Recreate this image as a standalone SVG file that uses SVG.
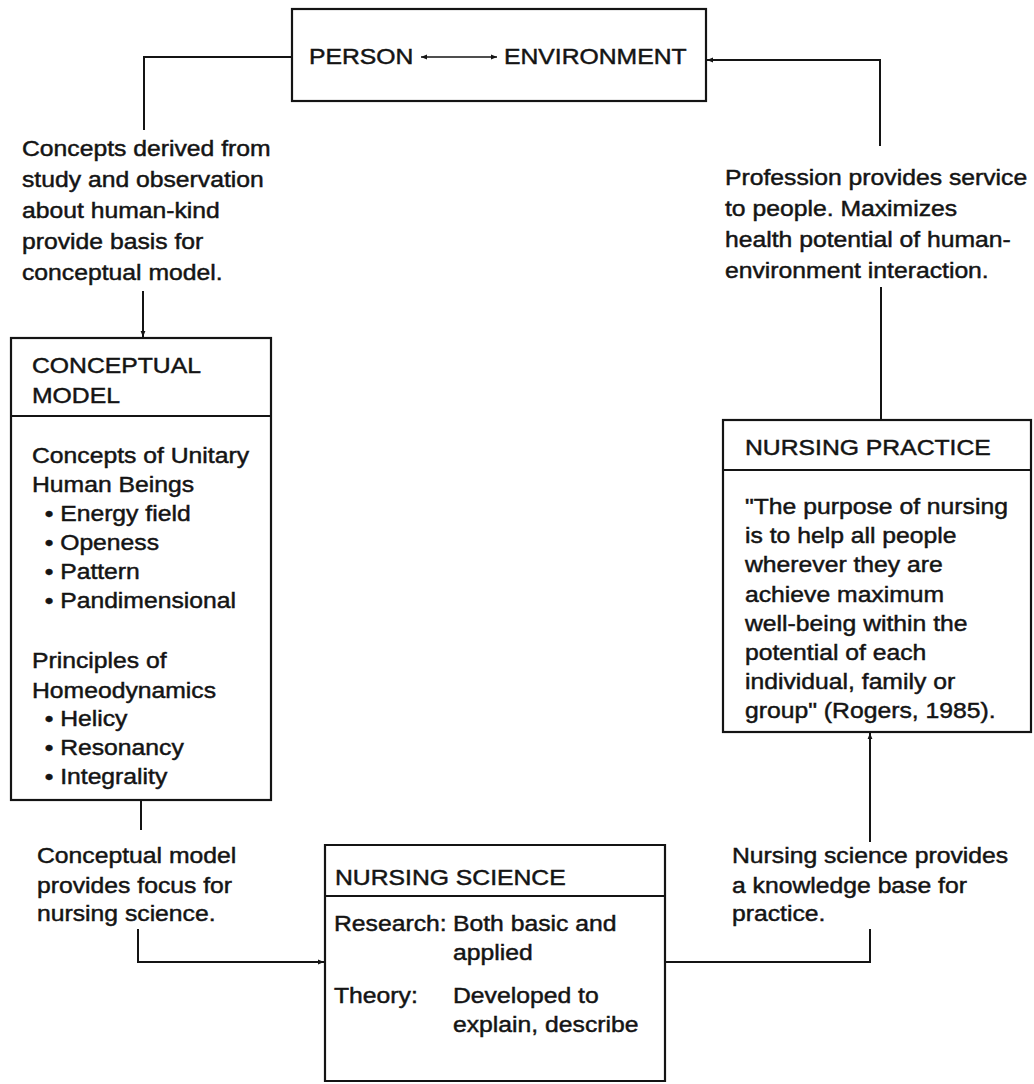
<svg xmlns="http://www.w3.org/2000/svg" width="1034" height="1084" viewBox="0 0 1034 1084">
<defs>
<style>
.t{font-family:"Liberation Sans",Arial,Helvetica,sans-serif;font-size:21.5px;fill:#141414;stroke:#141414;stroke-width:0.45}
.box{fill:none;stroke:#141414;stroke-width:2.2}
.ln{fill:none;stroke:#141414;stroke-width:2}
.thin{fill:none;stroke:#141414;stroke-width:1.5}
</style>
<marker id="ah" viewBox="0 0 10 10" refX="10" refY="5" markerWidth="8" markerHeight="6" markerUnits="userSpaceOnUse" orient="auto">
<path d="M0,1 L10,5 L0,9 Z" fill="#141414"/>
</marker>
<marker id="ahs" viewBox="0 0 10 10" refX="0" refY="5" markerWidth="8" markerHeight="6" markerUnits="userSpaceOnUse" orient="auto">
<path d="M10,1 L0,5 L10,9 Z" fill="#141414"/>
</marker>
</defs>
<rect width="1034" height="1084" fill="#ffffff"/>

<g id="connectors">
<path class="ln" d="M292,57 H144 V130"/>
<path class="ln" d="M143,291 V337" marker-end="url(#ah)"/>
<path class="ln" d="M880,146 V60 H707" marker-end="url(#ah)"/>
<path class="ln" d="M881,287 V420"/>
<path class="ln" d="M141,801 V830"/>
<path class="ln" d="M138,929 V962 H324" marker-end="url(#ah)"/>
<path class="ln" d="M666,962 H870 V929"/>
<path class="ln" d="M870,842 V733" marker-end="url(#ah)"/>
</g>

<g id="person-environment">
<rect class="box" x="292" y="9" width="414" height="92"/>
<text class="t" transform="translate(309 64) scale(1.15 1)">PERSON</text>
<path class="thin" d="M421,57 H497" marker-start="url(#ahs)" marker-end="url(#ah)"/>
<text class="t" transform="translate(504 64) scale(1.15 1)">ENVIRONMENT</text>
</g>

<g id="label-concepts">
<text class="t" transform="translate(22 156) scale(1.15 1)"><tspan x="0" y="0">Concepts derived from</tspan><tspan x="0" y="31">study and observation</tspan><tspan x="0" y="62">about human-kind</tspan><tspan x="0" y="93">provide basis for</tspan><tspan x="0" y="124">conceptual model.</tspan></text>
</g>

<g id="conceptual-model">
<rect class="box" x="11" y="338" width="260" height="462"/>
<line class="box" x1="11" y1="416" x2="271" y2="416"/>
<text class="t" transform="translate(32 373) scale(1.15 1)"><tspan x="0" y="0">CONCEPTUAL</tspan><tspan x="0" y="30">MODEL</tspan></text>
<text class="t" transform="translate(32 463) scale(1.15 1)"><tspan x="0" y="0">Concepts of Unitary</tspan><tspan x="0" y="29">Human Beings</tspan><tspan x="11" y="58">• Energy field</tspan><tspan x="11" y="87">• Openess</tspan><tspan x="11" y="116">• Pattern</tspan><tspan x="11" y="145">• Pandimensional</tspan><tspan x="0" y="205">Principles of</tspan><tspan x="0" y="235">Homeodynamics</tspan><tspan x="11" y="263">• Helicy</tspan><tspan x="11" y="292">• Resonancy</tspan><tspan x="11" y="321">• Integrality</tspan></text>
</g>

<g id="label-profession">
<text class="t" transform="translate(725 185) scale(1.15 1)"><tspan x="0" y="0">Profession provides service</tspan><tspan x="0" y="31">to people. Maximizes</tspan><tspan x="0" y="62">health potential of human-</tspan><tspan x="0" y="93">environment interaction.</tspan></text>
</g>

<g id="nursing-practice">
<rect class="box" x="723" y="420" width="308" height="312"/>
<line class="box" x1="723" y1="470" x2="1031" y2="470"/>
<text class="t" transform="translate(745 455) scale(1.15 1)">NURSING PRACTICE</text>
<text class="t" transform="translate(745 514) scale(1.15 1)"><tspan x="0" y="0">"The purpose of nursing</tspan><tspan x="0" y="29">is to help all people</tspan><tspan x="0" y="58">wherever they are</tspan><tspan x="0" y="88">achieve maximum</tspan><tspan x="0" y="117">well-being within the</tspan><tspan x="0" y="146">potential of each</tspan><tspan x="0" y="175">individual, family or</tspan><tspan x="0" y="204">group" (Rogers, 1985).</tspan></text>
</g>

<g id="label-focus">
<text class="t" transform="translate(37 863) scale(1.15 1)"><tspan x="0" y="0">Conceptual model</tspan><tspan x="0" y="30">provides focus for</tspan><tspan x="0" y="58">nursing science.</tspan></text>
</g>

<g id="label-knowledge">
<text class="t" transform="translate(732 863) scale(1.15 1)"><tspan x="0" y="0">Nursing science provides</tspan><tspan x="0" y="30">a knowledge base for</tspan><tspan x="0" y="58">practice.</tspan></text>
</g>

<g id="nursing-science">
<path class="box" d="M325,1081 V845 H665 V1081 Z"/>
<line class="box" x1="325" y1="896" x2="665" y2="896"/>
<text class="t" transform="translate(335 885) scale(1.15 1)">NURSING SCIENCE</text>
<text class="t" transform="translate(334 931) scale(1.15 1)"><tspan x="0" y="0">Research:</tspan><tspan x="0" y="72">Theory:</tspan></text>
<text class="t" transform="translate(453 931) scale(1.15 1)"><tspan x="0" y="0">Both basic and</tspan><tspan x="0" y="29">applied</tspan><tspan x="0" y="72">Developed to</tspan><tspan x="0" y="101">explain, describe</tspan></text>
</g>
</svg>
